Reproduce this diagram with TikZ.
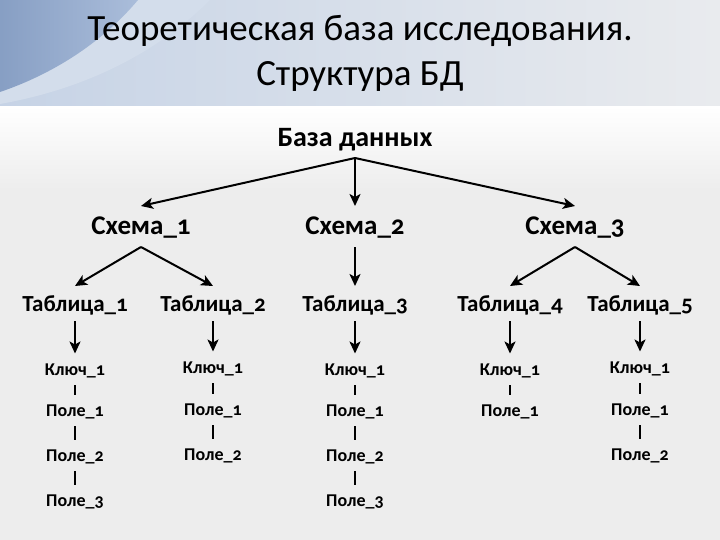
\documentclass[tikz,border=0pt]{standalone}
\usepackage{fontspec}
\setmainfont{Carlito}[Numbers=OldStyle]
\usetikzlibrary{arrows.meta}

\definecolor{pagegray}{HTML}{EDEDED}
\definecolor{headgray}{HTML}{E9EBEE}
\definecolor{headblue}{HTML}{C6D3E6}
\definecolor{deepblue}{HTML}{8EA7CE}
\definecolor{paleblue}{HTML}{D3DDEB}

\begin{document}
\begin{tikzpicture}[x=1pt, y=-1pt,
  every node/.style={inner sep=0pt, text depth=0pt, outer ysep=10pt, anchor=base},
  titletext/.style={font=\fontsize{37}{45}\selectfont, align=center, anchor=north},
  dbname/.style={font=\fontsize{28}{32}\selectfont\bfseries, text height=17pt, outer ysep=11pt},
  schemaname/.style={font=\fontsize{27}{31}\selectfont\bfseries, text height=17pt, outer ysep=12pt},
  tablename/.style={font=\fontsize{23}{27}\selectfont\bfseries, text height=15pt},
  fieldname/.style={font=\fontsize{18}{22}\selectfont\bfseries, text height=11.5pt},
  link/.style={-{Stealth[length=12pt,width=11pt,inset=3pt]}, line width=2pt},
  bar/.style={line width=2pt}]

  % Background
  \fill[pagegray] (0,0) rectangle (720,540);
  \shade[top color=white, bottom color=pagegray] (0,106) rectangle (720,190);
  \shade[left color=headblue, right color=headgray] (0,0) rectangle (720,106);
  \fill[paleblue] (0,0) -- (210,0) .. controls (160,50) and (90,88) .. (0,104) -- cycle;
  \shade[left color=deepblue!95!black, right color=deepblue!75!white] (0,0) -- (138,0) .. controls (100,45) and (50,75) .. (0,92) -- cycle;

  % Title
  \node[titletext] (title) at (360,5) {Теоретическая база исследования.\\Структура БД};

  % Database and schemas
  \node[dbname] (db) at (355,147) {База данных};
  \node[schemaname] (s1) at (141,235) {Схема\_1};
  \node[schemaname] (s2) at (355,235) {Схема\_2};
  \node[schemaname] (s3) at (575,235) {Схема\_3};

  % Tables
  \node[tablename] (t1) at (75,311) {Таблица\_1};
  \node[tablename] (t2) at (213,311) {Таблица\_2};
  \node[tablename] (t3) at (355,311) {Таблица\_3};
  \node[tablename] (t4) at (510,311) {Таблица\_4};
  \node[tablename] (t5) at (640,311) {Таблица\_5};

  % Fields of Таблица_1
  \node[fieldname] (k1) at (75,375) {Ключ\_1};
  \node[fieldname] (f11) at (75,416) {Поле\_1};
  \node[fieldname] (f12) at (75,461) {Поле\_2};
  \node[fieldname] (f13) at (75,506) {Поле\_3};
  % Fields of Таблица_2
  \node[fieldname] (k2) at (213,373) {Ключ\_1};
  \node[fieldname] (f21) at (213,415) {Поле\_1};
  \node[fieldname] (f22) at (213,460) {Поле\_2};
  % Fields of Таблица_3
  \node[fieldname] (k3) at (355,375) {Ключ\_1};
  \node[fieldname] (f31) at (355,416) {Поле\_1};
  \node[fieldname] (f32) at (355,461) {Поле\_2};
  \node[fieldname] (f33) at (355,506) {Поле\_3};
  % Fields of Таблица_4
  \node[fieldname] (k4) at (510,375) {Ключ\_1};
  \node[fieldname] (f41) at (510,416) {Поле\_1};
  % Fields of Таблица_5
  \node[fieldname] (k5) at (640,373) {Ключ\_1};
  \node[fieldname] (f51) at (640,415) {Поле\_1};
  \node[fieldname] (f52) at (640,460) {Поле\_2};

  % Arrows
  \draw[link] (db.south) -- (s1.north);
  \draw[link] (db.south) -- (s2.north);
  \draw[link] (db.south) -- (s3.north);
  \draw[link] (s1.south) -- (t1.north);
  \draw[link] (s1.south) -- (t2.north);
  \draw[link] (s2.south) -- (t3.north);
  \draw[link] (s3.south) -- (t4.north);
  \draw[link] (s3.south) -- (t5.north);
  \draw[link] (t1.south) -- (k1.north);
  \draw[link] (t2.south) -- (k2.north);
  \draw[link] (t3.south) -- (k3.north);
  \draw[link] (t4.south) -- (k4.north);
  \draw[link] (t5.south) -- (k5.north);

  % Bars between fields
  \draw[bar] (k1) -- (f11);
  \draw[bar] (f11) -- (f12);
  \draw[bar] (f12) -- (f13);
  \draw[bar] (k2) -- (f21);
  \draw[bar] (f21) -- (f22);
  \draw[bar] (k3) -- (f31);
  \draw[bar] (f31) -- (f32);
  \draw[bar] (f32) -- (f33);
  \draw[bar] (k4) -- (f41);
  \draw[bar] (k5) -- (f51);
  \draw[bar] (f51) -- (f52);
\end{tikzpicture}
\end{document}
